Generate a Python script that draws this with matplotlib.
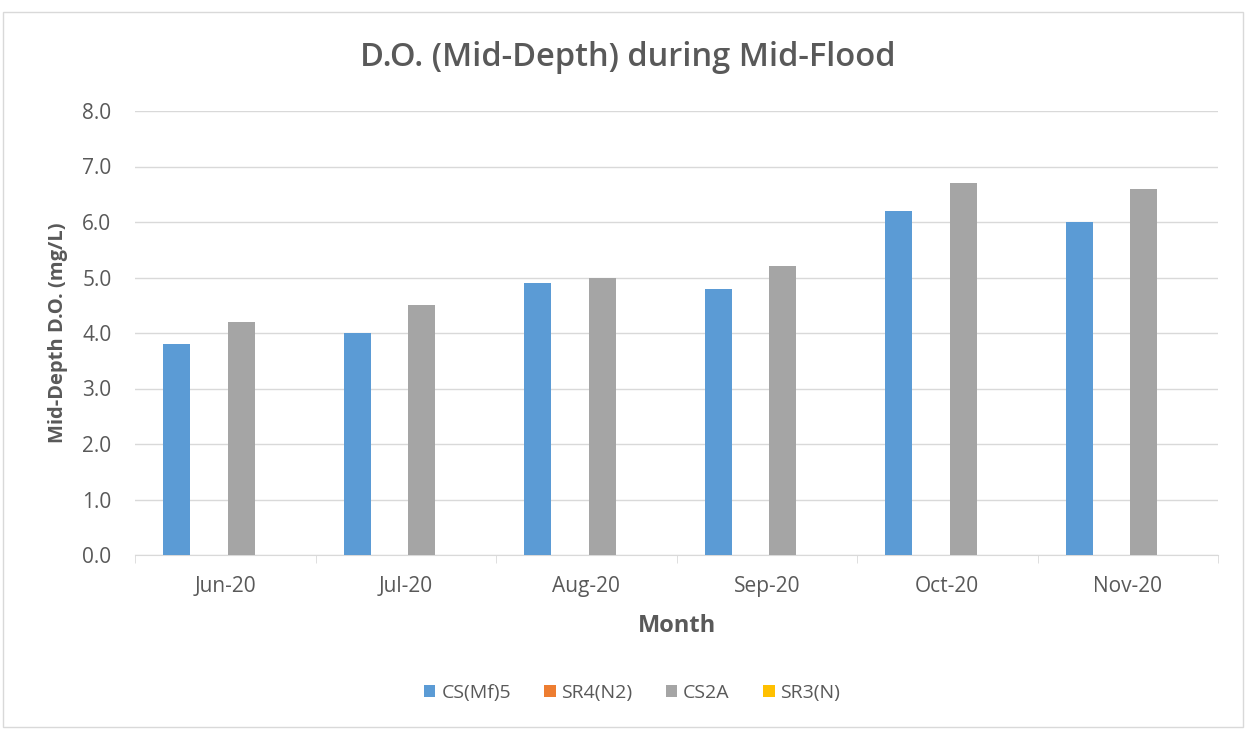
import matplotlib
matplotlib.use("Agg")
import matplotlib.pyplot as plt
import numpy as np
from matplotlib.patches import Rectangle

months = ["Jun-20", "Jul-20", "Aug-20", "Sep-20", "Oct-20", "Nov-20"]
series_names = ["CS(Mf)5", "SR4(N2)", "CS2A", "SR3(N)"]
cs_mf5 = [3.8, 4.0, 4.9, 4.8, 6.2, 6.0]
sr4_n2 = [np.nan] * 6
cs2a = [4.2, 4.5, 5.0, 5.2, 6.7, 6.6]
sr3_n = [np.nan] * 6
colors = ["#5b9bd5", "#ed7d31", "#a5a5a5", "#ffc000"]
yticks = [0.0, 1.0, 2.0, 3.0, 4.0, 5.0, 6.0, 7.0, 8.0]

plt.rcParams['font.family'] = ['Open Sans', 'DejaVu Sans']
txt = "#595959"

fig = plt.figure(figsize=(12.47, 7.31), dpi=100)
fig.patches.append(Rectangle((3/1247, 4/731), 1240/1247, (719-4)/731, transform=fig.transFigure,
                             fill=False, edgecolor="#d9d9d9", linewidth=1))
ax = fig.add_axes([135/1247, 1-555/731, (1218-135)/1247, (555-111)/731])

x = np.arange(len(months))
slot = 0.179
bw = 0.15
data = [cs_mf5, sr4_n2, cs2a, sr3_n]
for i, (vals, name, c) in enumerate(zip(data, series_names, colors)):
    off = (i - 1.5) * slot
    ax.bar(x + off, np.nan_to_num(vals, nan=0.0), width=bw, color=c, label=name, zorder=3)

ax.set_xlim(-0.5, len(months) - 0.5)
ax.set_ylim(0, 8)
ax.set_yticks(yticks)
ax.set_yticklabels([f"{v:.1f}" for v in yticks])
ax.yaxis.grid(True, color="#d9d9d9", linewidth=1)
ax.set_axisbelow(True)
for s in ["top", "right", "left"]:
    ax.spines[s].set_visible(False)
ax.spines["bottom"].set_color("#d9d9d9")
ax.tick_params(axis="y", length=0, labelsize=15, labelcolor=txt, pad=17)
ax.set_xticks(x)
ax.set_xticklabels(months)
ax.tick_params(axis="x", length=0, labelsize=15, labelcolor=txt, pad=15)
ax.set_xticks(np.arange(-0.5, len(months)), minor=True)
ax.tick_params(axis="x", which="minor", length=6, color="#d9d9d9")

ax.set_xlabel("Month", fontsize=17, fontweight="bold", color=txt, labelpad=12)
ax.set_ylabel("Mid-Depth D.O. (mg/L)", fontsize=14.5, fontweight="bold", color=txt)
ax.yaxis.set_label_coords(-(135-68)/(1218-135), 0.5)
fig.text(628/1247, 1-57/731, "D.O. (Mid-Depth) during Mid-Flood", ha="center", va="center",
         fontsize=23.5, fontweight="semibold", color=txt)

leg = fig.legend(loc="center", bbox_to_anchor=(632/1247, 1-693/731), ncol=4, frameon=False,
                 fontsize=14, handlelength=0.6, handleheight=0.6, handletextpad=0.3, columnspacing=1.7)
for t in leg.get_texts():
    t.set_color(txt)

fig.savefig("out.png", dpi=100)
